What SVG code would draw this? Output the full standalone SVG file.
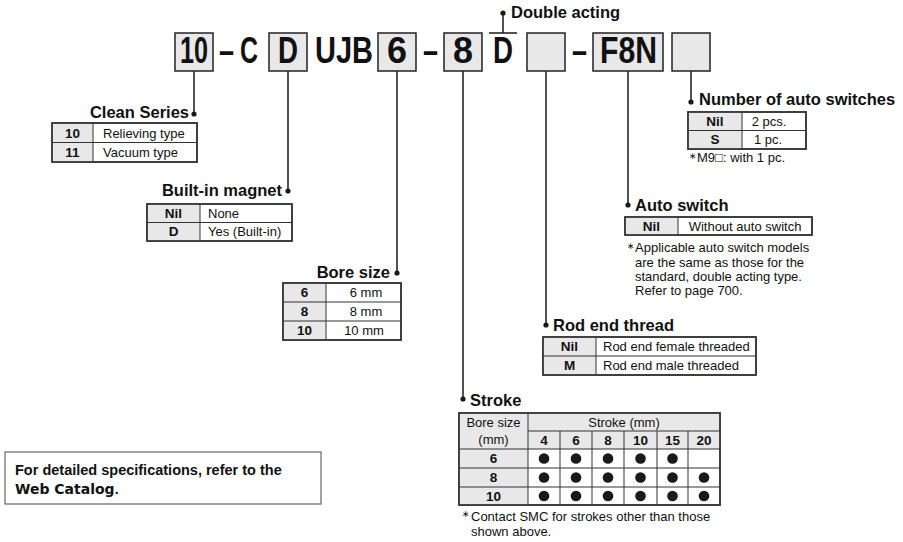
<svg xmlns="http://www.w3.org/2000/svg" width="903" height="542" viewBox="0 0 903 542">
<defs>
<style>
.code{font-family:"Liberation Sans",Arial,sans-serif;font-weight:bold;font-size:36px;fill:#111}
.box{fill:#e8e8e8;stroke:#222;stroke-width:1.5}
.h{font-family:"Liberation Sans",Arial,sans-serif;font-weight:bold;font-size:16.5px;fill:#111}
.t{font-family:"Liberation Sans",Arial,"DejaVu Sans",sans-serif;font-size:13px;fill:#111}
.k{font-family:"Liberation Sans",Arial,sans-serif;font-weight:bold;font-size:13.5px;fill:#111;text-anchor:middle}
.c{text-anchor:middle}
.tb{fill:#fff;stroke:#333;stroke-width:1.5}
.kc{fill:#e8e8e8}
.gl{stroke:#333;stroke-width:1;fill:none}
.ln{stroke:#1a1a1a;stroke-width:1.5;fill:none}
.dot{fill:#1a1a1a}
.note{font-family:"Liberation Sans",Arial,"DejaVu Sans",sans-serif;font-size:13px;fill:#111}
.ast{font-family:"DejaVu Sans",sans-serif;font-size:9px;fill:#111}
</style>
</defs>
<rect width="903" height="542" fill="#fff"/>

<g id="connectors">
<line class="ln" x1="194" y1="71" x2="194" y2="114"/>
<circle class="dot" cx="194" cy="114" r="2.6"/>
<line class="ln" x1="288" y1="71" x2="288" y2="191"/>
<circle class="dot" cx="288" cy="191" r="2.6"/>
<line class="ln" x1="397" y1="71" x2="397" y2="273"/>
<circle class="dot" cx="397" cy="273" r="2.6"/>
<line class="ln" x1="463" y1="71" x2="463" y2="399"/>
<circle class="dot" cx="463" cy="399" r="2.6"/>
<line class="ln" x1="546" y1="71" x2="546" y2="325"/>
<circle class="dot" cx="546" cy="325" r="2.6"/>
<line class="ln" x1="628" y1="71" x2="628" y2="205"/>
<circle class="dot" cx="628" cy="205" r="2.6"/>
<line class="ln" x1="691" y1="71" x2="691" y2="102"/>
<circle class="dot" cx="691" cy="102" r="2.6"/>
<line class="ln" x1="489" y1="33" x2="517" y2="33"/>
<line class="ln" x1="503" y1="33" x2="503" y2="13"/>
<circle class="dot" cx="503" cy="13" r="2.6"/>
</g>

<g id="code">
<rect class="box" x="175" y="33" width="38" height="38"/>
<text class="code" x="180" y="63" textLength="28" lengthAdjust="spacingAndGlyphs">10</text>
<text class="code" x="219" y="63" textLength="15" lengthAdjust="spacingAndGlyphs">–</text>
<text class="code" x="240" y="63" textLength="18" lengthAdjust="spacingAndGlyphs">C</text>
<rect class="box" x="269" y="33" width="38" height="38"/>
<text class="code" x="278" y="63" textLength="20" lengthAdjust="spacingAndGlyphs">D</text>
<text class="code" x="315" y="63" textLength="58" lengthAdjust="spacingAndGlyphs">UJB</text>
<rect class="box" x="378" y="33" width="38" height="38"/>
<text class="code" x="387" y="63" textLength="20" lengthAdjust="spacingAndGlyphs">6</text>
<text class="code" x="423" y="63" textLength="15" lengthAdjust="spacingAndGlyphs">–</text>
<rect class="box" x="444" y="33" width="38" height="38"/>
<text class="code" x="453" y="63" textLength="20" lengthAdjust="spacingAndGlyphs">8</text>
<text class="code" x="493" y="63" textLength="20" lengthAdjust="spacingAndGlyphs">D</text>
<rect class="box" x="527" y="33" width="38" height="38"/>
<text class="code" x="572" y="63" textLength="15" lengthAdjust="spacingAndGlyphs">–</text>
<rect class="box" x="593" y="33" width="70" height="38"/>
<text class="code" x="600" y="63" textLength="57" lengthAdjust="spacingAndGlyphs">F8N</text>
<rect class="box" x="672" y="33" width="38" height="38"/>
</g>

<g id="double-acting">
<text class="h" x="511" y="18">Double acting</text>
</g>

<g id="clean-series">
<text class="h" x="189" y="118" text-anchor="end">Clean Series</text>
<rect class="tb" x="52" y="123" width="145" height="39"/>
<rect class="kc" x="52.75" y="123.75" width="40.25" height="37.5"/>
<line class="gl" x1="93" y1="123" x2="93" y2="162"/>
<line class="gl" x1="52" y1="142.5" x2="197" y2="142.5"/>
<rect x="52" y="123" width="145" height="39" fill="none" stroke="#333" stroke-width="1.5"/>
<text class="k" x="72.5" y="137.5">10</text>
<text class="k" x="72.5" y="157">11</text>
<text class="t" x="103" y="137.5">Relieving type</text>
<text class="t" x="103" y="157">Vacuum type</text>
</g>

<g id="built-in-magnet">
<text class="h" x="282" y="196" text-anchor="end">Built-in magnet</text>
<rect class="tb" x="147" y="204" width="145" height="37"/>
<rect class="kc" x="147.75" y="204.75" width="52.25" height="35.5"/>
<line class="gl" x1="200" y1="204" x2="200" y2="241"/>
<line class="gl" x1="147" y1="222.5" x2="292" y2="222.5"/>
<rect x="147" y="204" width="145" height="37" fill="none" stroke="#333" stroke-width="1.5"/>
<text class="k" x="173.5" y="217.5">Nil</text>
<text class="k" x="173.5" y="236">D</text>
<text class="t" x="208" y="217.5">None</text>
<text class="t" x="208" y="236">Yes (Built-in)</text>
</g>

<g id="bore-size">
<text class="h" x="390" y="278" text-anchor="end">Bore size</text>
<rect class="tb" x="283" y="283" width="118" height="57"/>
<rect class="kc" x="283.75" y="283.75" width="42.25" height="55.5"/>
<line class="gl" x1="326" y1="283" x2="326" y2="340"/>
<line class="gl" x1="283" y1="302" x2="401" y2="302"/>
<line class="gl" x1="283" y1="321" x2="401" y2="321"/>
<rect x="283" y="283" width="118" height="57" fill="none" stroke="#333" stroke-width="1.5"/>
<text class="k" x="304.5" y="297">6</text>
<text class="k" x="304.5" y="316">8</text>
<text class="k" x="304.5" y="335">10</text>
<text class="t c" x="366" y="297">6 mm</text>
<text class="t c" x="366" y="316">8 mm</text>
<text class="t c" x="364" y="335">10 mm</text>
</g>

<g id="rod-end-thread">
<text class="h" x="553" y="331">Rod end thread</text>
<rect class="tb" x="543" y="337" width="213" height="38"/>
<rect class="kc" x="543.75" y="337.75" width="52.25" height="36.5"/>
<line class="gl" x1="596" y1="337" x2="596" y2="375"/>
<line class="gl" x1="543" y1="356" x2="756" y2="356"/>
<rect x="543" y="337" width="213" height="38" fill="none" stroke="#333" stroke-width="1.5"/>
<text class="k" x="569.5" y="351">Nil</text>
<text class="k" x="569.5" y="370">M</text>
<text class="t" x="603" y="351">Rod end female threaded</text>
<text class="t" x="603" y="370">Rod end male threaded</text>
</g>

<g id="auto-switch">
<text class="h" x="635" y="211">Auto switch</text>
<rect class="tb" x="625" y="217" width="187" height="18"/>
<rect class="kc" x="625.75" y="217.75" width="52.25" height="16.5"/>
<line class="gl" x1="678" y1="217" x2="678" y2="235"/>
<rect x="625" y="217" width="187" height="18" fill="none" stroke="#333" stroke-width="1.5"/>
<text class="k" x="651.5" y="230.5">Nil</text>
<text class="t c" x="745" y="230.5">Without auto switch</text>
<text class="ast" x="627" y="249">∗</text>
<text class="note" x="635" y="252">Applicable auto switch models</text>
<text class="note" x="635" y="266.5">are the same as those for the</text>
<text class="note" x="635" y="281">standard, double acting type.</text>
<text class="note" x="635" y="295">Refer to page 700.</text>
</g>

<g id="number-of-auto-switches">
<text class="h" x="699" y="105">Number of auto switches</text>
<rect class="tb" x="688" y="112" width="118" height="37"/>
<rect class="kc" x="688.75" y="112.75" width="53.25" height="35.5"/>
<line class="gl" x1="742" y1="112" x2="742" y2="149"/>
<line class="gl" x1="688" y1="130.5" x2="806" y2="130.5"/>
<rect x="688" y="112" width="118" height="37" fill="none" stroke="#333" stroke-width="1.5"/>
<text class="k" x="715" y="125.5">Nil</text>
<text class="k" x="715" y="144">S</text>
<text class="t c" x="769" y="125.5">2 pcs.</text>
<text class="t c" x="768" y="144">1 pc.</text>
<text class="ast" x="689" y="159">∗</text>
<text class="note" x="697" y="162">M9□: with 1 pc.</text>
</g>

<g id="stroke">
<text class="h" x="470" y="406">Stroke</text>
<rect class="tb" x="459" y="413" width="261" height="92"/>
<rect class="kc" x="459.75" y="413.75" width="68.25" height="90.5"/>
<rect class="kc" x="528" y="413.75" width="191.25" height="35.25"/>
<line class="gl" x1="528" y1="413" x2="528" y2="505"/>
<line class="gl" x1="528" y1="431" x2="720" y2="431"/>
<line class="gl" x1="459" y1="449" x2="720" y2="449"/>
<line class="gl" x1="459" y1="468" x2="720" y2="468"/>
<line class="gl" x1="459" y1="487" x2="720" y2="487"/>
<line class="gl" x1="560" y1="431" x2="560" y2="505"/>
<line class="gl" x1="592" y1="431" x2="592" y2="505"/>
<line class="gl" x1="624" y1="431" x2="624" y2="505"/>
<line class="gl" x1="657" y1="431" x2="657" y2="505"/>
<line class="gl" x1="688" y1="431" x2="688" y2="505"/>
<rect x="459" y="413" width="261" height="92" fill="none" stroke="#333" stroke-width="1.5"/>
<text class="t c" x="493.5" y="427">Bore size</text>
<text class="t c" x="493.5" y="444">(mm)</text>
<text class="t c" x="624" y="427">Stroke (mm)</text>
<text class="k" x="544" y="445">4</text>
<text class="k" x="576" y="445">6</text>
<text class="k" x="608" y="445">8</text>
<text class="k" x="640.5" y="445">10</text>
<text class="k" x="672.5" y="445">15</text>
<text class="k" x="704" y="445">20</text>
<text class="k" x="493.5" y="463">6</text>
<text class="k" x="493.5" y="482">8</text>
<text class="k" x="493.5" y="500.5">10</text>
<g class="dot">
<circle cx="544" cy="458.5" r="5.3"/><circle cx="576" cy="458.5" r="5.3"/><circle cx="608" cy="458.5" r="5.3"/><circle cx="640.5" cy="458.5" r="5.3"/><circle cx="672.5" cy="458.5" r="5.3"/>
<circle cx="544" cy="477.5" r="5.3"/><circle cx="576" cy="477.5" r="5.3"/><circle cx="608" cy="477.5" r="5.3"/><circle cx="640.5" cy="477.5" r="5.3"/><circle cx="672.5" cy="477.5" r="5.3"/><circle cx="704" cy="477.5" r="5.3"/>
<circle cx="544" cy="496" r="5.3"/><circle cx="576" cy="496" r="5.3"/><circle cx="608" cy="496" r="5.3"/><circle cx="640.5" cy="496" r="5.3"/><circle cx="672.5" cy="496" r="5.3"/><circle cx="704" cy="496" r="5.3"/>
</g>
<text class="ast" x="462" y="517">∗</text>
<text class="note" x="471" y="520.5">Contact SMC for strokes other than those</text>
<text class="note" x="471" y="535.5">shown above.</text>
</g>

<g id="web-catalog-note">
<rect x="5" y="452" width="316" height="52" fill="#fff" stroke="#666" stroke-width="1.2"/>
<text x="15" y="475" font-family="Liberation Sans, Arial, sans-serif" font-weight="bold" font-size="14.5" fill="#111">For detailed specifications, refer to the</text>
<text x="15" y="494" font-family="DejaVu Sans, sans-serif" font-weight="bold" font-size="14" fill="#111">Web Catalog<tspan font-family="Liberation Sans, Arial, sans-serif">.</tspan></text>
</g>
</svg>
